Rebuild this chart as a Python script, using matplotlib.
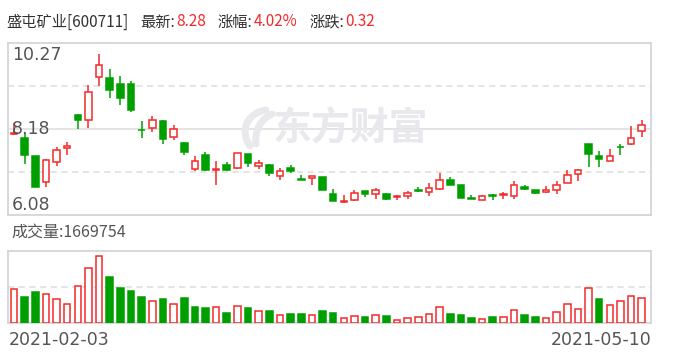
import matplotlib
matplotlib.use("Agg")
import matplotlib.pyplot as plt
from matplotlib.path import Path
from matplotlib.patches import PathPatch
from matplotlib.transforms import Affine2D
import numpy as np

plt.rcParams['font.family'] = ['Noto Sans CJK SC', 'DejaVu Sans']

# daily OHLC, 2021-02-03 .. 2021-05-10
opens = [8.06, 7.96, 7.52, 6.88, 7.36, 7.70, 8.52, 8.40, 9.43, 9.42,
         9.28, 9.28, 8.15, 8.19, 8.37, 7.97, 7.83, 7.21, 7.53, 7.17,
         7.29, 7.22, 7.57, 7.27, 7.30, 7.02, 7.23, 6.95, 6.98, 7.01,
         6.59, 6.40, 6.44, 6.67, 6.58, 6.59, 6.51, 6.55, 6.69, 6.65,
         6.71, 6.93, 6.81, 6.49, 6.44, 6.56, 6.56, 6.54, 6.76, 6.69,
         6.65, 6.68, 6.85, 7.07, 7.80, 7.52, 7.39, 7.74, 7.80, 8.12]
highs = [8.31, 8.07, 7.52, 7.45, 7.74, 7.86, 8.54, 9.24, 10.00, 9.64,
         9.47, 9.34, 8.38, 8.49, 8.39, 8.27, 7.86, 7.52, 7.62, 7.39,
         7.36, 7.59, 7.57, 7.42, 7.32, 7.23, 7.29, 7.05, 7.03, 7.01,
         6.71, 6.56, 6.69, 6.67, 6.74, 6.61, 6.57, 6.67, 6.75, 6.87,
         7.10, 7.01, 6.82, 6.57, 6.56, 6.59, 6.63, 6.91, 6.81, 6.69,
         6.79, 6.91, 7.18, 7.20, 7.81, 7.64, 7.69, 7.81, 8.25, 8.39]
lows = [8.03, 7.33, 6.77, 6.75, 7.27, 7.55, 8.18, 8.21, 9.23, 8.94,
        8.76, 8.60, 7.96, 8.11, 7.82, 7.91, 7.53, 7.14, 7.16, 6.82,
        7.14, 7.20, 7.26, 7.21, 7.02, 6.93, 7.10, 6.93, 6.82, 6.69,
        6.41, 6.37, 6.43, 6.51, 6.46, 6.45, 6.45, 6.48, 6.65, 6.54,
        6.70, 6.80, 6.50, 6.46, 6.44, 6.44, 6.48, 6.48, 6.70, 6.58,
        6.62, 6.60, 6.85, 6.92, 7.26, 7.26, 7.39, 7.53, 7.78, 7.99]
closes = [8.08, 7.53, 6.77, 7.41, 7.66, 7.76, 8.40, 9.08, 9.73, 9.13,
          8.94, 8.64, 8.14, 8.39, 7.92, 8.17, 7.62, 7.40, 7.18, 7.20,
          7.18, 7.58, 7.34, 7.34, 7.11, 7.14, 7.14, 6.93, 7.02, 6.70,
          6.43, 6.42, 6.61, 6.58, 6.68, 6.48, 6.54, 6.62, 6.67, 6.73,
          6.93, 6.82, 6.50, 6.46, 6.54, 6.54, 6.58, 6.80, 6.72, 6.62,
          6.68, 6.80, 7.05, 7.17, 7.57, 7.45, 7.51, 7.73, 7.96, 8.28]
volumes = [2209000, 1689000, 2034000, 1884000, 1559000, 1234000, 2404000, 3573000, 4353000, 2989000,
           2293000, 2099000, 1709000, 1429000, 1559000, 1234000, 1624000, 1040000, 975000, 1040000,
           650000, 1150000, 975000, 780000, 780000, 565000, 585000, 585000, 565000, 780000,
           650000, 370000, 500000, 390000, 565000, 455000, 240000, 370000, 435000, 630000,
           1085000, 585000, 520000, 325000, 305000, 390000, 435000, 845000, 520000, 390000,
           370000, 715000, 1280000, 955000, 2319000, 1559000, 1215000, 1429000, 1800000, 1669754]
# 1 = red (up vs previous close), 0 = green
vol_up = [1, 0, 0, 1, 1, 1, 1, 1, 1, 0,
          0, 0, 0, 1, 0, 1, 0, 0, 0, 1,
          0, 1, 0, 1, 0, 1, 0, 0, 1, 0,
          0, 1, 1, 0, 1, 0, 1, 1, 1, 1,
          1, 0, 0, 0, 1, 0, 1, 1, 0, 0,
          1, 1, 1, 1, 1, 0, 1, 1, 1, 1]
first_date = "2021-02-03"
last_date = "2021-05-10"
price_top, price_mid, price_bottom = 10.27, 8.18, 6.08
header_name = "盛屯矿业[600711]"
header_fields = [("最新:", "8.28"), ("涨幅:", "4.02%"), ("涨跌:", "0.32")]

RED = '#f22a2a'
GREEN = '#009f00'
GRID = '#dcdcdc'
BORDER = '#d2d2d6'
LABEL = '#555555'
WATER = '#e8e8ed'

W, H = 688, 360
fig = plt.figure(figsize=(W / 100, H / 100), dpi=100)

def box(x0, y0, x1, y1):
    # pixel box (top-left origin) -> figure rect
    return [x0 / W, 1 - y1 / H, (x1 - x0) / W, (y1 - y0) / H]

ax = fig.add_axes(box(8, 43, 651, 215))
axv = fig.add_axes(box(8, 251.3, 651, 323.3))

n = len(closes)
x = np.arange(n)
o = np.array(opens)
c = np.array(closes)
up = c >= o
bw = 0.62

# price panel
ax.set_xlim(-0.56, n - 1 + 0.87)
ax.set_ylim(price_bottom, price_top)
for frac, ls in [(0.25, (0, (4, 3))), (0.5, '-'), (0.75, (0, (4, 3)))]:
    ax.axhline(price_bottom + frac * (price_top - price_bottom), color=GRID,
               lw=1.1, ls=ls, zorder=1)

# watermark: swoosh logo + brand name (pixel coords, top-left origin)
px2fig = Affine2D().scale(1, -1).translate(0, H)
logo = [
    [(250, 146), (238, 128), (250, 112), (266, 110)],
    [(256, 144), (254, 130), (262, 118), (272, 114)],
]
for pts in logo:
    path = Path(pts, [Path.MOVETO, Path.CURVE4, Path.CURVE4, Path.CURVE4])
    fig.patches.append(PathPatch(path, transform=px2fig, fill=False, ec=WATER,
                                 lw=5, capstyle='round', zorder=0))
fig.text(350 / W, 1 - 129 / H, '东方财富', ha='center', va='center',
         fontsize=28, fontweight='bold', color=WATER, zorder=0)
ax.patch.set_alpha(0)

cols = np.where(up, RED, GREEN)
ax.vlines(x, lows, highs, colors=cols, lw=1.1, zorder=2)
bottoms = np.minimum(o, c)
heights = np.maximum(np.abs(c - o), 0.012)
ax.bar(x, heights, bw, bottom=bottoms, color=np.where(up, 'white', GREEN),
       edgecolor=cols, linewidth=1.1, zorder=3)

for v, va, yy in [(price_top, 'top', 0.985), (price_mid, 'center', 0.5), (price_bottom, 'bottom', 0.005)]:
    ax.text(0.006, yy, f'{v:.2f}', transform=ax.transAxes, ha='left', va=va,
            fontsize=12.5, color=LABEL, family='DejaVu Sans', zorder=5)

# volume panel
axv.set_xlim(ax.get_xlim())
vmax = 4.68e6
axv.set_ylim(0, vmax)
axv.axhline(vmax / 2, color=GRID, lw=1.1, ls=(0, (4, 3)), zorder=1)
vup = np.array(vol_up) == 1
axv.bar(x, volumes, bw, color=np.where(vup, 'white', GREEN),
        edgecolor=np.where(vup, RED, GREEN), linewidth=1.1, zorder=3)

for a in (ax, axv):
    a.set_xticks([])
    a.set_yticks([])
    for s in a.spines.values():
        s.set_color(BORDER)
        s.set_linewidth(1.2)

# header texts, laid out left to right
renderer = fig.canvas.get_renderer()
ty = 1 - 22 / H
hfs = 11

def put(px, s, color):
    t = fig.text(px / W, ty, s, fontsize=hfs, color=color, va='center')
    return t.get_window_extent(renderer).x1

cur = put(6, header_name, '#333333')
for lab, val in header_fields:
    cur = put(cur + 12, lab, '#333333')
    cur = put(cur + 1, val, RED)

fig.text(11 / W, 1 - 232 / H, f'成交量:{volumes[-1]}', fontsize=11.5, color=LABEL, va='center')
fig.text(8.5 / W, 1 - 340 / H, first_date, fontsize=12.5, color=LABEL, va='center',
         family='DejaVu Sans')
fig.text(651.5 / W, 1 - 340 / H, last_date, fontsize=12.5, color=LABEL, va='center',
         ha='right', family='DejaVu Sans')

fig.savefig('out.png', dpi=100)
